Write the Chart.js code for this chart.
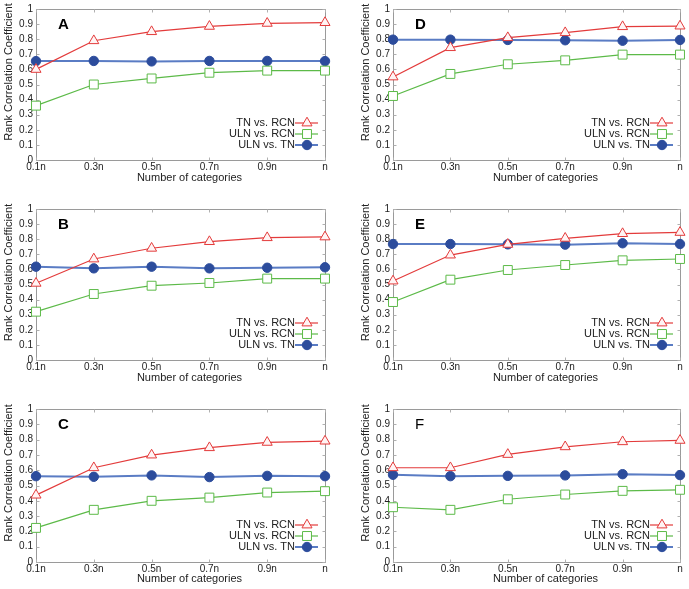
<!DOCTYPE html>
<html>
<head>
<meta charset="utf-8">
<script src="https://cdn.jsdelivr.net/npm/chart.js@4.4.0/dist/chart.umd.min.js"></script>
<style>
  html, body { margin: 0; padding: 0; background: #fff; }
  #wrap { position: relative; width: 689px; height: 589px; overflow: hidden; }
  canvas { position: absolute; }
</style>
</head>
<body>
<div id="wrap"></div>
<script>
// Dados
const categories = ['0.1n', '0.3n', '0.5n', '0.7n', '0.9n', 'n'];
const yTickLabels = ['0', '0.1', '0.2', '0.3', '0.4', '0.5', '0.6', '0.7', '0.8', '0.9', '1'];
const seriesNames = ['TN vs. RCN', 'ULN vs. RCN', 'ULN vs. TN'];
const xTitle = 'Number of categories';
const yTitle = 'Rank Correlation Coefficient';

const aTnRcn  = [0.60, 0.79, 0.85, 0.885, 0.905, 0.91];
const aUlnRcn = [0.36, 0.50, 0.54, 0.578, 0.592, 0.592];
const aUlnTn  = [0.655, 0.656, 0.653, 0.656, 0.656, 0.655];

const bTnRcn  = [0.508, 0.669, 0.74, 0.784, 0.81, 0.815];
const bUlnRcn = [0.32, 0.437, 0.492, 0.51, 0.539, 0.539];
const bUlnTn  = [0.618, 0.607, 0.618, 0.607, 0.611, 0.614];

const cTnRcn  = [0.437, 0.616, 0.699, 0.747, 0.782, 0.79];
const cUlnRcn = [0.223, 0.341, 0.40, 0.421, 0.454, 0.463];
const cUlnTn  = [0.561, 0.557, 0.566, 0.555, 0.563, 0.561];

const dTnRcn  = [0.55, 0.744, 0.81, 0.843, 0.883, 0.887];
const dUlnRcn = [0.424, 0.57, 0.634, 0.66, 0.698, 0.698];
const dUlnTn  = [0.797, 0.797, 0.795, 0.793, 0.79, 0.795];

const eTnRcn  = [0.523, 0.695, 0.766, 0.806, 0.837, 0.845];
const eUlnRcn = [0.384, 0.532, 0.596, 0.629, 0.66, 0.669];
const eUlnTn  = [0.768, 0.768, 0.766, 0.764, 0.773, 0.768];

const fTnRcn  = [0.616, 0.616, 0.703, 0.753, 0.786, 0.795];
const fUlnRcn = [0.358, 0.341, 0.41, 0.441, 0.465, 0.472];
const fUlnTn  = [0.57, 0.561, 0.563, 0.566, 0.574, 0.568];

// Estilos das séries
const estilos = [
  { line: '#e33b3b', stroke: '#e33b3b', fill: '#fff4f4', style: 'triangle', radius: 5.8, width: 1.2 },
  { line: '#5cba48', stroke: '#5cba48', fill: '#ffffff', style: 'rect', radius: 6.3, width: 1.2 },
  { line: '#5a7cc4', stroke: '#2c4c9c', fill: '#2c4c9c', style: 'circle', radius: 4.7, width: 2 }
];

// Posição de cada painel na página
const paineis = [
  { letra: 'A', bold: true,  series: [aTnRcn, aUlnRcn, aUlnTn], x: 0,   y: 0,   w: 345, h: 195, area: { l: 36, r: 325, t: 9,  b: 160 }, yt: { x: 8.5, y: 72 },   xtY: 178.3 },
  { letra: 'B', bold: true,  series: [bTnRcn, bUlnRcn, bUlnTn], x: 0,   y: 195, w: 345, h: 195, area: { l: 36, r: 325, t: 14, b: 165 }, yt: { x: 8.5, y: 77.5 }, xtY: 182.7 },
  { letra: 'C', bold: true,  series: [cTnRcn, cUlnRcn, cUlnTn], x: 0,   y: 390, w: 345, h: 199, area: { l: 36, r: 325, t: 19, b: 172 }, yt: { x: 8.5, y: 83 },   xtY: 189 },
  { letra: 'D', bold: true,  series: [dTnRcn, dUlnRcn, dUlnTn], x: 345, y: 0,   w: 344, h: 195, area: { l: 48, r: 335, t: 9,  b: 160 }, yt: { x: 21, y: 72.5 },  xtY: 178.3 },
  { letra: 'E', bold: true,  series: [eTnRcn, eUlnRcn, eUlnTn], x: 345, y: 195, w: 344, h: 195, area: { l: 48, r: 335, t: 14, b: 165 }, yt: { x: 21, y: 77.5 },  xtY: 182.7 },
  { letra: 'F', bold: false, series: [fTnRcn, fUlnRcn, fUlnTn], x: 345, y: 390, w: 344, h: 199, area: { l: 48, r: 335, t: 19, b: 172 }, yt: { x: 21, y: 83 },    xtY: 189 }
];

const fonte = '"Liberation Sans", Arial, sans-serif';

// Plugin: moldura com marcas internas, legenda, títulos dos eixos e letra do painel
const molduraPlugin = {
  id: 'moldura',
  beforeDatasetsDraw(chart) {
    const { ctx, chartArea: a, scales } = chart;
    const l = Math.round(a.left) + 0.5, t = Math.round(a.top) + 0.5;
    const r = Math.round(a.right) + 0.5, b = Math.round(a.bottom) + 0.5;
    ctx.save();
    ctx.strokeStyle = '#9a9a9a';
    ctx.lineWidth = 1;
    ctx.strokeRect(l, t, r - l, b - t);
    // marcas curtas para dentro
    ctx.strokeStyle = '#b0b0b0';
    ctx.beginPath();
    scales.y.ticks.forEach(function (tk) {
      const y = Math.round(scales.y.getPixelForValue(tk.value)) + 0.5;
      ctx.moveTo(l, y); ctx.lineTo(l + 3, y);
      ctx.moveTo(r, y); ctx.lineTo(r - 3, y);
    });
    categories.forEach(function (c, i) {
      const x = Math.round(scales.x.getPixelForValue(i)) + 0.5;
      ctx.moveTo(x, b); ctx.lineTo(x, b - 3);
      ctx.moveTo(x, t); ctx.lineTo(x, t + 3);
    });
    ctx.stroke();
    ctx.restore();
  },
  afterDraw(chart, args, opts) {
    const { ctx, chartArea: a } = chart;
    const p = opts.painel;
    ctx.save();
    ctx.textBaseline = 'middle';

    // legenda
    const offsets = [37, 26, 15];
    ctx.font = '11px ' + fonte;
    seriesNames.forEach((nome, i) => {
      const y = a.bottom - offsets[i];
      const e = estilos[i];
      ctx.fillStyle = '#222';
      ctx.textAlign = 'right';
      ctx.fillText(nome, a.right - 30, y);
      ctx.strokeStyle = e.line;
      ctx.lineWidth = e.width;
      ctx.beginPath();
      ctx.moveTo(a.right - 30, y);
      ctx.lineTo(a.right - 7, y);
      ctx.stroke();
      ctx.strokeStyle = e.stroke;
      ctx.fillStyle = e.fill;
      ctx.lineWidth = 1;
      Chart.helpers.drawPoint(ctx, { pointStyle: e.style, radius: e.radius, rotation: 0, borderWidth: 1 }, a.right - 18, y);
    });

    // título do eixo x
    ctx.fillStyle = '#222';
    ctx.textAlign = 'center';
    ctx.font = '11px ' + fonte;
    ctx.fillText(xTitle, (a.left + a.right) / 2 + 9, p.xtY);

    // título do eixo y
    ctx.save();
    ctx.translate(p.yt.x, p.yt.y);
    ctx.rotate(-Math.PI / 2);
    ctx.fillText(yTitle, 0, 0);
    ctx.restore();

    // letra do painel
    ctx.textAlign = 'left';
    ctx.font = (p.bold ? 'bold 15px ' : '15px ') + fonte;
    ctx.fillStyle = '#000';
    ctx.fillText(p.letra, a.left + 22, a.top + 16);
    ctx.restore();
  }
};

const wrap = document.getElementById('wrap');

paineis.forEach(function (p) {
  const canvas = document.createElement('canvas');
  canvas.width = p.w;
  canvas.height = p.h;
  canvas.style.left = p.x + 'px';
  canvas.style.top = p.y + 'px';
  canvas.style.width = p.w + 'px';
  canvas.style.height = p.h + 'px';
  wrap.appendChild(canvas);

  new Chart(canvas.getContext('2d'), {
    type: 'line',
    data: {
      labels: categories,
      datasets: p.series.map((valores, i) => ({
        label: seriesNames[i],
        data: valores,
        borderColor: estilos[i].line,
        borderWidth: estilos[i].width,
        pointStyle: estilos[i].style,
        pointRadius: estilos[i].radius,
        pointBorderColor: estilos[i].stroke,
        pointBackgroundColor: estilos[i].fill,
        pointBorderWidth: 1,
        tension: 0,
        clip: false
      }))
    },
    options: {
      responsive: false,
      animation: false,
      devicePixelRatio: 1,
      layout: { padding: { top: p.area.t, right: p.w - p.area.r, left: 0, bottom: 0 } },
      plugins: {
        legend: { display: false },
        tooltip: { enabled: false },
        moldura: { painel: p }
      },
      scales: {
        x: {
          type: 'category',
          offset: false,
          grid: { display: false, drawTicks: false },
          border: { display: false },
          ticks: { color: '#222', font: { family: fonte, size: 10 }, padding: 1, maxRotation: 0, autoSkip: false },
          afterFit: function (scale) { scale.height = p.h - p.area.b; }
        },
        y: {
          min: 0,
          max: 1,
          grid: { display: false, drawTicks: false },
          border: { display: false },
          ticks: {
            stepSize: 0.1,
            color: '#222',
            font: { family: fonte, size: 10 },
            padding: 3,
            callback: function (v, i) { return yTickLabels[i]; }
          },
          afterFit: function (scale) { scale.width = p.area.l; }
        }
      }
    },
    plugins: [molduraPlugin]
  });
});
</script>
</body>
</html>
